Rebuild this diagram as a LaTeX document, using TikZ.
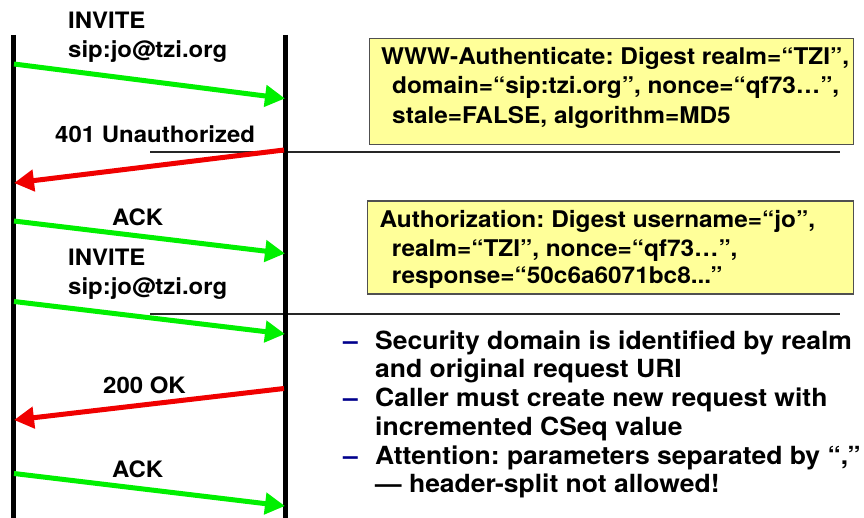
\documentclass[tikz,border=0pt]{standalone}
\usepackage{fontspec}
\setmainfont{TeX Gyre Heros}[FakeStretch=1.06]
\usetikzlibrary{arrows.meta}
\definecolor{msggreen}{RGB}{0,240,0}
\definecolor{msgred}{RGB}{240,0,0}
\definecolor{boxfill}{RGB}{255,255,153}
\definecolor{boxline}{RGB}{80,80,80}
\definecolor{dashblue}{RGB}{0,0,140}
\frenchspacing
\begin{document}
\begin{tikzpicture}[x=1pt,y=-1pt,
  lifeline/.style={line width=4.7pt},
  msg/.style={line width=5pt,-{Triangle[length=20pt,width=21pt]}},
  req/.style={msg,msggreen},
  resp/.style={msg,msgred},
  lbl/.style={anchor=base west,inner sep=0pt,font=\fontsize{22.6}{27}\selectfont\bfseries\frenchspacing},
  hdrbox/.style={draw=boxline,line width=1.2pt,fill=boxfill,anchor=north west,inner sep=0pt},
  boxtxt/.style={anchor=base west,inner sep=0pt,font=\fontsize{23}{27}\selectfont\bfseries\frenchspacing},
  bultxt/.style={anchor=base west,inner sep=0pt,font=\fontsize{25}{28}\selectfont\bfseries\frenchspacing},
  bulmark/.style={anchor=base west,inner sep=0pt,text=dashblue,font=\fontsize{25}{28}\selectfont\bfseries},
  sep/.style={line width=1.2pt,draw=black!85}
]
\useasboundingbox (0,0) rectangle (864,518);
% lifelines
\coordinate (Ltop) at (13.5,35);
\coordinate (Lbot) at (13.5,518);
\coordinate (Rtop) at (285.3,35);
\coordinate (Rbot) at (285.3,518);
% separator lines
\coordinate (s1a) at (150,152);
\coordinate (s1b) at (840,152);
\coordinate (s2a) at (150,314);
\coordinate (s2b) at (840,314);
\draw[sep] (s1a) -- (s1b);
\draw[sep] (s2a) -- (s2b);
\draw[lifeline] (Ltop) -- (Lbot);
\draw[lifeline] (Rtop) -- (Rbot);
% message endpoints
\coordinate (m1a) at (14,64);   \coordinate (m1b) at (285,98.5);
\coordinate (m2a) at (284,150); \coordinate (m2b) at (14,183);
\coordinate (m3a) at (14,221);  \coordinate (m3b) at (285,253.5);
\coordinate (m4a) at (14,301.5);\coordinate (m4b) at (285,334);
\coordinate (m5a) at (284,388.5);\coordinate (m5b) at (14,420);
\coordinate (m6a) at (14,473.5);\coordinate (m6b) at (285,506);
\draw[req]  (m1a) -- (m1b);
\draw[resp] (m2a) -- (m2b);
\draw[req]  (m3a) -- (m3b);
\draw[req]  (m4a) -- (m4b);
\draw[resp] (m5a) -- (m5b);
\draw[req]  (m6a) -- (m6b);
% message labels
\node[lbl] (inv1) at (68,29) {INVITE};
\node[lbl] (uri1) at (68,58) {sip:jo@tzi.org};
\node[lbl] (unauth) at (55,143) {401 Unauthorized};
\node[lbl] (ack1) at (112,226) {ACK};
\node[lbl] (inv2) at (68,266) {INVITE};
\node[lbl] (uri2) at (68,295) {sip:jo@tzi.org};
\node[lbl] (ok) at (103,393) {200 OK};
\node[lbl] (ack2) at (112,477) {ACK};
% header boxes
\node[hdrbox,minimum width=484pt,minimum height=106pt] (wwwbox) at (369,38) {};
\node[boxtxt] (w1) at (381,64.3) {WWW-Authenticate: Digest realm=“TZI”,};
\node[boxtxt] (w2) at (392,94) {domain=“sip:tzi.org”, nonce=“qf73…”,};
\node[boxtxt] (w3) at (392,123.3) {stale=FALSE, algorithm=MD5};
\node[hdrbox,minimum width=486pt,minimum height=93pt] (authbox) at (367,200.5) {};
\node[boxtxt] (a1) at (379.3,228) {Authorization: Digest username=“jo”,};
\node[boxtxt] (a2) at (391.7,256.7) {realm=“TZI”, nonce=“qf73…”,};
\node[boxtxt] (a3) at (391.7,283.5) {response=“50c6a6071bc8...”};
% bullets
\node[bulmark] (d1) at (343,349.3) {–};
\node[bultxt] (b1) at (375,349.3) {Security domain is identified by realm};
\node[bultxt] (b2) at (375,377.3) {and original request URI};
\node[bulmark] (d2) at (343,406.7) {–};
\node[bultxt] (b3) at (375,406.7) {Caller must create new request with};
\node[bultxt] (b4) at (375,435) {incremented CSeq value};
\node[bulmark] (d3) at (343,464) {–};
\node[bultxt] (b5) at (375,464) {Attention: parameters separated by “,”};
\node[bultxt] (b6) at (375,492.7) {— header-split not allowed!};
\end{tikzpicture}
\end{document}
